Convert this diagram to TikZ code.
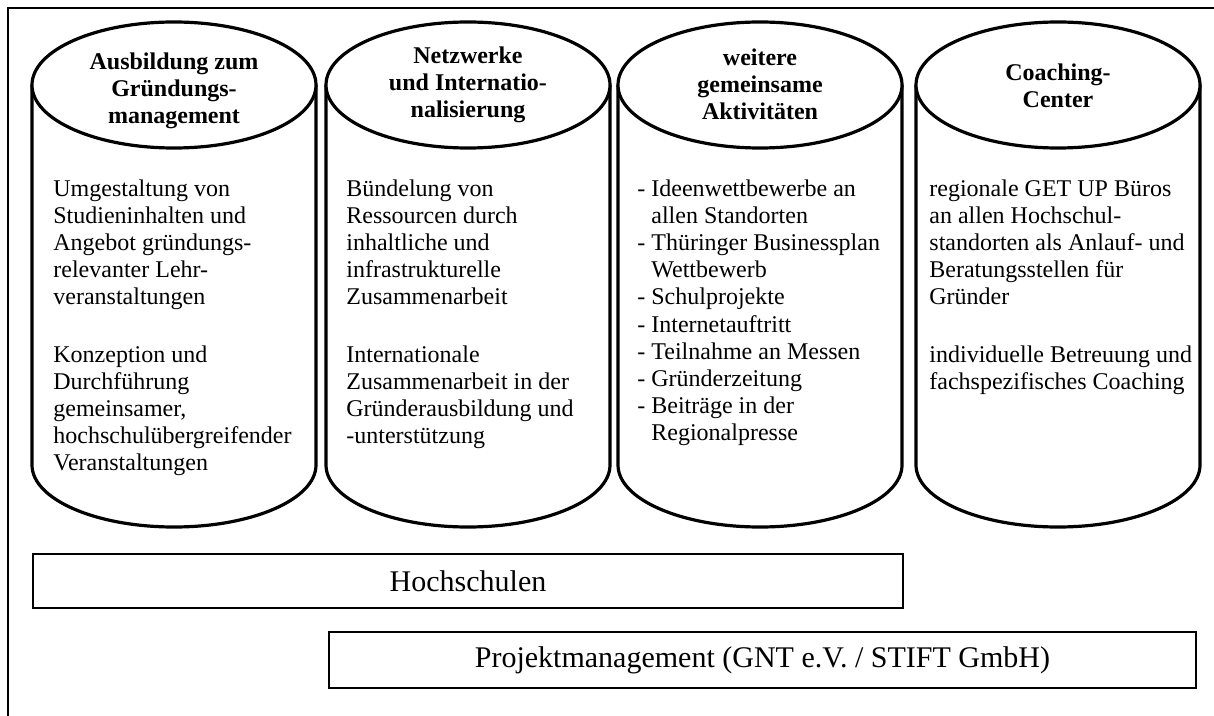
\documentclass[tikz,border=0pt]{standalone}
\usepackage{fontspec}
\setmainfont{Liberation Serif}
\usetikzlibrary{shapes.geometric}
\tikzset{
  cylside/.style={line width=1.6pt},
  cyltop/.style={ellipse, draw, line width=1.6pt, fill=white, minimum width=142pt, minimum height=63pt, inner sep=0pt},
  headtext/.style={inner sep=0pt, align=center, font=\fontsize{12}{13.6}\selectfont\bfseries},
  body/.style={anchor=north west, inner sep=0pt, align=left, font=\fontsize{12}{13.6}\selectfont},
  basebox/.style={draw, line width=0.8pt, inner sep=0pt},
  boxtext/.style={inner sep=0pt, font=\fontsize{15}{17}\selectfont},
}
\begin{document}
\begin{tikzpicture}[x=0.5pt,y=-0.5pt]
\useasboundingbox (0,0) rectangle (1214,716);
% outer frame (extends past the right and bottom edges)
\draw[line width=1pt] (8,730) -- (8,8) -- (1230,8);

% cylinder bodies
\foreach \c in {174,468,760,1058}{
  \draw[cylside] (\c-142,85) -- (\c-142,465) arc[start angle=180,end angle=360,x radius=71pt,y radius=31pt] -- (\c+142,85);
}
% cylinder tops
\node[cyltop] (h1) at (174,85) {};
\node[cyltop] (h2) at (468,85) {};
\node[cyltop] (h3) at (760,85) {};
\node[cyltop] (h4) at (1058,85) {};
\node[headtext] (l1) at (174,91) {Ausbildung zum\\Gründungs-\\management};
\node[headtext] (l2) at (468,85) {Netzwerke\\und Internatio-\\nalisierung};
\node[headtext] (l3) at (760,84) {weitere\\gemeinsame\\Aktivitäten};
\node[headtext] (l4) at (1058,86) {Coaching-\\Center};

% cylinder contents
\node[body] (t1) at (53,179) {Umgestaltung von\\Studieninhalten und\\Angebot gründungs-\\relevanter Lehr-\\veranstaltungen\\[15pt]Konzeption und\\Durchführung\\gemeinsamer,\\hochschulübergreifender\\Veranstaltungen};
\node[body] (t2) at (346,179) {Bündelung von\\Ressourcen durch\\inhaltliche und\\infrastrukturelle\\Zusammenarbeit\\[15pt]Internationale\\Zusammenarbeit in der\\Gründerausbildung und\\-unterstützung};
\node[body] (t3) at (637,179) {- Ideenwettbewerbe an\\\hphantom{-} allen Standorten\\- Thüringer Businessplan\\\hphantom{-} Wettbewerb\\- Schulprojekte\\- Internetauftritt\\- Teilnahme an Messen\\- Gründerzeitung\\- Beiträge in der\\\hphantom{-} Regionalpresse};
\node[body] (t4) at (929,179) {regionale GET UP Büros\\an allen Hochschul-\\standorten als Anlauf- und\\Beratungsstellen für\\Gründer\\[15pt]individuelle Betreuung und\\fachspezifisches Coaching};

% base boxes
\node[basebox, minimum width=435pt, minimum height=27pt] (hs) at (468,581) {};
\node[boxtext] (hst) at (hs.center) {Hochschulen};
\node[basebox, minimum width=433.5pt, minimum height=28pt] (pm) at (762.5,660) {};
\node[boxtext] (pmt) at (pm.center) {Projektmanagement (GNT e.V. / STIFT GmbH)};
\end{tikzpicture}
\end{document}
